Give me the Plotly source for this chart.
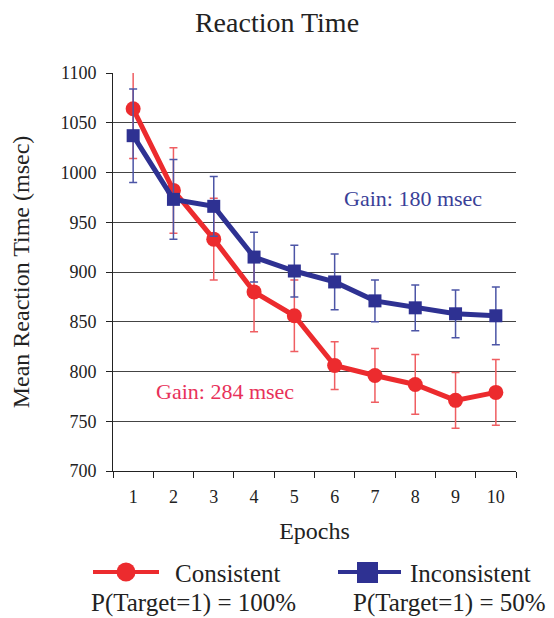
import plotly.graph_objects as go

epochs = ["1", "2", "3", "4", "5", "6", "7", "8", "9", "10"]
consistent = [1064, 982, 933, 880, 856, 806, 796, 787, 771, 779]
consistent_err = [50, 43, 41, 40, 36, 24, 27, 30, 28, 33]
inconsistent = [1037, 973, 966, 915, 901, 890, 871, 864, 858, 856]
inconsistent_err = [47, 40, 30, 25, 26, 28, 21, 23, 24, 29]

RED = "#EC2B2E"
RED_ERR = "#EF5E62"
BLUE = "#2E3192"
BLUE_ERR = "#4C55A6"
FONT = "Liberation Serif"

W, H = 554, 618
OFF = 8  # page body margin
L, R, T, B = 113, 38, 73, 147


def px(x):
    return (x - L) / (W - L - R)


def py(y):
    return (H - B - y) / (H - T - B)


fig = go.Figure()
fig.add_trace(go.Scatter(
    x=epochs, y=consistent, name="Consistent", mode="lines+markers",
    line=dict(color=RED, width=5),
    marker=dict(symbol="circle", size=15, color=RED),
    error_y=dict(type="data", array=consistent_err, visible=True,
                 color=RED_ERR, thickness=1.5, width=4),
    showlegend=False, cliponaxis=False,
))
fig.add_trace(go.Scatter(
    x=epochs, y=inconsistent, name="Inconsistent", mode="lines+markers",
    line=dict(color=BLUE, width=5),
    marker=dict(symbol="square", size=13, color=BLUE),
    error_y=dict(type="data", array=inconsistent_err, visible=True,
                 color=BLUE_ERR, thickness=1.5, width=4),
    showlegend=False, cliponaxis=False,
))

shapes = []
annotations = []
# custom legend
shapes.append(dict(type="line", xref="paper", yref="paper",
                   x0=px(93), x1=px(159), y0=py(572), y1=py(572),
                   line=dict(color=RED, width=4)))
shapes.append(dict(type="circle", xref="paper", yref="paper",
                   x0=px(116.5), x1=px(135.5), y0=py(562.5), y1=py(581.5),
                   fillcolor=RED, line=dict(color=RED, width=0)))
shapes.append(dict(type="line", xref="paper", yref="paper",
                   x0=px(338), x1=px(401), y0=py(572), y1=py(572),
                   line=dict(color=BLUE, width=4)))
shapes.append(dict(type="rect", xref="paper", yref="paper",
                   x0=px(357), x1=px(378), y0=py(562), y1=py(583),
                   fillcolor=BLUE, line=dict(color=BLUE, width=0)))

legend_text = [
    ("Consistent", 173, 573),
    ("P(Target=1) = 100%", 89, 603),
    ("Inconsistent", 408, 573),
    ("P(Target=1) = 50%", 351, 603),
]
for txt, x, y in legend_text:
    annotations.append(dict(text=txt, xref="paper", yref="paper",
                            x=px(x), y=py(y), xanchor="left", yanchor="middle",
                            showarrow=False,
                            font=dict(family=FONT, size=25, color="#222")))

annotations.append(dict(text="Gain: 180 msec", xref="paper", yref="y",
                        x=px(413), y=974, xanchor="center", yanchor="middle",
                        showarrow=False,
                        font=dict(family=FONT, size=22, color="#3A3F98")))
annotations.append(dict(text="Gain: 284 msec", xref="paper", yref="y",
                        x=px(225), y=780, xanchor="center", yanchor="middle",
                        showarrow=False,
                        font=dict(family=FONT, size=22, color="#E8315A")))

fig.update_layout(
    width=W - OFF, height=H - OFF,
    margin=dict(l=L - OFF, r=R, t=T - OFF, b=B),
    paper_bgcolor="white", plot_bgcolor="white",
    font=dict(family=FONT, color="#222"),
    title=dict(text="Reaction Time", x=(W / 2 - OFF) / (W - OFF), xanchor="center",
               y=1 - (22 - OFF) / (H - OFF), yanchor="middle",
               font=dict(family=FONT, size=28, color="#222")),
    shapes=shapes,
    annotations=annotations,
)
fig.update_xaxes(
    type="category", range=[-0.5, len(epochs) - 0.5],
    tickson="boundaries", ticks="outside", ticklen=6,
    tickcolor="#222", showline=True, linecolor="#222", linewidth=1,
    showgrid=False, tickfont=dict(size=18), ticklabelstandoff=9,
    automargin=False,
    title=dict(text="Epochs", font=dict(size=24), standoff=16),
)
fig.update_yaxes(
    range=[700, 1100], dtick=50, ticks="outside", ticklen=6, tickcolor="#222",
    showline=True, linecolor="#222", linewidth=1,
    showgrid=True, gridcolor="#444", gridwidth=1, zeroline=False,
    tickfont=dict(size=18), ticklabelstandoff=6, automargin=False,
    title=dict(text="Mean Reaction Time (msec)", font=dict(size=24), standoff=25),
)

fig.write_html("out.html")
